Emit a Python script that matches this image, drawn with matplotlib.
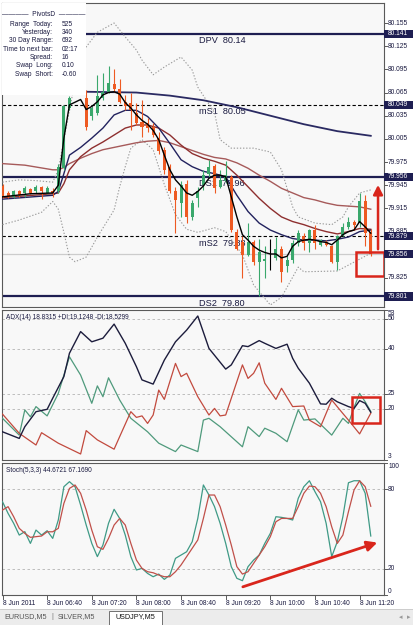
import numpy as np
import matplotlib
matplotlib.use("Agg")
import matplotlib.pyplot as plt
from matplotlib.patches import Rectangle, FancyArrowPatch
from matplotlib.lines import Line2D

plt.rcParams['font.family'] = ['Liberation Sans', 'DejaVu Sans']

nan = np.nan
# ---------------- candles (USDJPY M5) ----------------
opens = [79.944, 79.935, 79.930, 79.937, 79.935, 79.940, 79.937, 79.943, 79.935, 79.938,
         79.937, 79.967, 80.045, nan, nan, 80.058, 80.034, 80.038, 80.058, 80.066,
         80.076, 80.070, 80.053, 80.051, 80.038, 80.027, 80.025, 80.021, 80.006, 79.991,
         79.969, 79.937, 79.922, 79.947, 79.904, 79.928, 79.945, 79.960, 79.970, 79.943,
         79.950, 79.956, 79.885, 79.872, 79.855, 79.872, 79.846, 79.847, 79.849, 79.851,
         79.863, 79.840, 79.848, 79.870, 79.879, 79.870, 79.887, 79.868, 79.872, 79.866,
         79.846, 79.881, 79.891, 79.898, 79.896, 79.924, 79.885]
highs = [79.947, 79.937, 79.939, 79.939, 79.944, 79.942, 79.945, 79.944, 79.944, 79.942,
         79.973, 80.049, 80.060, nan, nan, 80.068, 80.047, 80.088, 80.090, 80.099,
         80.096, 80.083, 80.062, 80.064, 80.051, 80.055, 80.032, 80.025, 80.014, 79.995,
         79.973, 79.943, 79.950, 79.952, 79.926, 79.943, 79.965, 79.978, 79.973, 79.965,
         79.976, 79.958, 79.889, 79.879, 79.896, 79.874, 79.876, 79.866, 79.876, 79.878,
         79.866, 79.853, 79.874, 79.887, 79.883, 79.889, 79.894, 79.876, 79.874, 79.868,
         79.881, 79.896, 79.904, 79.900, 79.935, 79.932, 79.889]
lows = [79.928, 79.928, 79.929, 79.930, 79.930, 79.934, 79.935, 79.927, 79.934, 79.930,
        79.935, 79.965, 80.042, nan, nan, 80.016, 80.029, 80.036, 80.055, 80.064,
        80.066, 80.051, 80.042, 80.017, 80.023, 80.008, 80.014, 80.008, 79.986, 79.960,
        79.935, 79.883, 79.904, 79.896, 79.900, 79.917, 79.939, 79.956, 79.935, 79.941,
        79.948, 79.885, 79.861, 79.825, 79.853, 79.842, 79.801, 79.825, 79.835, 79.848,
        79.820, 79.833, 79.844, 79.866, 79.861, 79.859, 79.863, 79.866, 79.866, 79.844,
        79.835, 79.879, 79.889, 79.887, 79.891, 79.866, 79.853]
closes = [79.930, 79.930, 79.937, 79.932, 79.941, 79.935, 79.943, 79.938, 79.942, 79.935,
          79.969, 80.047, 80.058, nan, nan, 80.021, 80.045, 80.060, 80.066, 80.077,
          80.070, 80.053, 80.047, 80.042, 80.025, 80.021, 80.019, 80.010, 79.989, 79.965,
          79.937, 79.926, 79.945, 79.904, 79.922, 79.938, 79.958, 79.969, 79.941, 79.952,
          79.958, 79.887, 79.863, 79.855, 79.872, 79.846, 79.859, 79.849, 79.849, 79.863,
          79.833, 79.848, 79.870, 79.883, 79.870, 79.887, 79.870, 79.874, 79.868, 79.846,
          79.879, 79.891, 79.898, 79.894, 79.924, 79.883, 79.856]

# ---------------- moving averages / bands (bar index, price) ----------------
ma_fast_x = [0, 5, 9, 10, 11, 12, 14, 15, 16, 17, 18, 19, 20, 21, 22, 23, 24, 25, 26, 27, 28, 29, 30,
             31, 32, 33, 34, 35, 36, 37, 38, 39, 40, 41, 42, 43, 44, 45, 46, 47, 48, 49, 50, 51, 52,
             53, 54, 55, 56, 57, 58, 59, 60, 61, 62, 63, 64, 65, 66]
ma_fast_y = [79.930, 79.934, 79.935, 79.945, 80.006, 80.049, 80.056, 80.043, 80.047, 80.053, 80.062,
             80.065, 80.066, 80.063, 80.052, 80.045, 80.036, 80.029, 80.024, 80.016, 80.004, 79.984,
             79.965, 79.952, 79.944, 79.935, 79.932, 79.937, 79.944, 79.954, 79.958, 79.958, 79.956,
             79.930, 79.904, 79.881, 79.874, 79.866, 79.861, 79.858, 79.856, 79.856, 79.851, 79.853,
             79.866, 79.872, 79.874, 79.875, 79.874, 79.872, 79.871, 79.868, 79.874, 79.881, 79.885,
             79.887, 79.898, 79.891, 79.883]
ma_mid_x = [0, 9, 10, 11, 12, 14, 16, 18, 20, 22, 24, 26, 28, 30, 32, 34, 36, 38, 40, 42, 44, 46, 48,
            50, 52, 54, 56, 58, 60, 62, 64, 66]
ma_mid_y = [79.927, 79.932, 79.937, 79.960, 79.984, 79.994, 80.006, 80.019, 80.036, 80.042, 80.042,
            80.034, 80.019, 79.999, 79.978, 79.969, 79.963, 79.960, 79.956, 79.932, 79.911, 79.896,
            79.887, 79.881, 79.876, 79.874, 79.874, 79.873, 79.875, 79.878, 79.885, 79.887]
ma_21_x = ma_mid_x
ma_21_y = [79.929, 79.934, 79.935, 79.947, 79.965, 79.982, 79.993, 80.001, 80.010, 80.019, 80.023,
           80.023, 80.019, 80.010, 79.997, 79.986, 79.980, 79.976, 79.971, 79.958, 79.943, 79.928,
           79.915, 79.904, 79.898, 79.894, 79.889, 79.885, 79.882, 79.885, 79.889, 79.888]
ma_slow_x = [0, 4, 9, 10, 11, 12, 14, 16, 18, 20, 22, 24, 26, 28, 30, 32, 34, 36, 38, 40, 42, 44, 46,
             48, 50, 52, 54, 56, 58, 60, 62, 64, 66]
ma_slow_y = [79.973, 79.971, 79.965, 79.965, 79.968, 79.973, 79.980, 79.986, 79.991, 79.994, 79.997,
             80.000, 80.002, 80.003, 80.000, 79.995, 79.990, 79.985, 79.981, 79.979, 79.974, 79.967,
             79.958, 79.950, 79.941, 79.935, 79.929, 79.926, 79.922, 79.919, 79.918, 79.917, 79.914]
ma_200_x = [0, 15, 24, 30, 36, 42, 48, 54, 60, 66]
ma_200_y = [80.068, 80.066, 80.065, 80.061, 80.055, 80.046, 80.035, 80.024, 80.015, 80.009]
bb_up_x = [0, 3, 6, 9, 10, 11, 12, 13, 15, 17, 20, 22, 24, 25, 27, 29, 32, 34, 35, 38, 39, 41, 45,
           48, 50, 52, 53, 56, 59, 61, 62, 64, 66]
bb_up_y = [79.949, 79.952, 79.951, 79.949, 79.965, 80.004, 80.042, 80.080, 80.124, 80.143, 80.155,
           80.137, 80.120, 80.107, 80.088, 80.098, 80.111, 80.094, 80.072, 80.039, 80.004, 79.993,
           79.993, 79.988, 79.965, 79.917, 79.904, 79.896, 79.894, 79.904, 79.917, 79.935, 79.939]
bb_lo_x = [0, 3, 7, 9, 10, 11, 12, 13, 15, 17, 20, 21, 22, 23, 25, 27, 29, 31, 33, 35, 38, 40, 43,
           45, 48, 50, 53, 54, 60, 66]
bb_lo_y = [79.894, 79.900, 79.910, 79.924, 79.914, 79.884, 79.852, 79.846, 79.852, 79.878, 79.913,
           79.943, 79.969, 79.993, 80.004, 79.991, 79.946, 79.907, 79.888, 79.884, 79.890, 79.885,
           79.855, 79.816, 79.790, 79.800, 79.839, 79.833, 79.834, 79.857]

# ---------------- ADX(14) ----------------
adx_x = [0, 3, 4, 6, 8, 9, 11, 12, 14, 16, 18, 20, 22, 24, 25, 27, 29, 31, 33, 35, 37, 40, 41, 43,
         44, 46, 47, 49, 51, 52, 53, 55, 57, 58, 59, 60, 62, 63, 64, 65, 66]
adx_y = [12.3, 10.1, 14.0, 19.0, 19.8, 23.5, 30.7, 38.5, 45.7, 42.3, 43.5, 48.2, 41.8, 34.0, 29.6,
         28.2, 36.2, 42.3, 46.2, 50.9, 40.1, 33.2, 34.6, 41.0, 40.7, 42.7, 41.8, 40.1, 41.5, 36.8,
         33.5, 28.5, 21.6, 21.5, 23.5, 22.3, 20.7, 20.1, 22.7, 21.8, 18.8]
pdi_x = [0, 3, 4, 5, 6, 8, 10, 12, 14, 16, 17, 18, 19, 21, 23, 26, 28, 31, 32, 35, 36, 37, 39, 43,
         44, 46, 47, 49, 51, 53, 54, 56, 59, 61, 62, 63, 64, 65, 66]
pdi_y = [16.8, 11.2, 19.6, 17.3, 20.7, 17.6, 25.1, 37.3, 31.2, 21.8, 27.6, 24.0, 30.3, 22.9, 16.8,
         12.3, 8.5, 5.7, 7.9, 5.7, 16.2, 16.8, 14.0, 7.3, 14.0, 10.7, 13.5, 11.8, 9.0, 19.6, 16.2,
         16.6, 11.2, 16.8, 15.1, 20.4, 25.1, 22.3, 19.1]
mdi_x = [0, 3, 6, 7, 10, 14, 15, 17, 20, 21, 23, 24, 25, 26, 27, 28, 29, 31, 32, 33, 35, 37, 38, 39,
         40, 43, 44, 45, 46, 47, 49, 50, 52, 54, 55, 57, 59, 61, 62, 64, 66]
mdi_y = [18.2, 11.8, 7.9, 12.0, 8.5, 4.9, 12.7, 9.6, 6.5, 10.7, 19.0, 17.1, 17.6, 15.1, 17.9, 26.2,
         23.1, 35.1, 30.7, 31.8, 24.0, 17.9, 20.1, 17.6, 17.9, 34.6, 30.1, 31.8, 35.3, 28.5, 23.1,
         26.8, 20.7, 20.9, 16.2, 14.0, 22.9, 18.4, 16.2, 11.6, 18.5]

# ---------------- Stochastic(5,3,3) ----------------
stoch_k = [70.6, 61.8, 54.3, 45.4, 48.0, 39.1, 49.2, 45.4, 48.7, 42.9,
           56.8, 82.0, 85.8, 82.0, 68.1, 53.0, 39.1, 29.1, 37.9, 54.3,
           64.9, 58.0, 45.4, 29.1, 19.0, 20.2, 16.4, 13.9, 15.9, 11.9,
           15.2, 27.8, 30.3, 32.8, 40.4, 58.0, 83.3, 75.7, 66.9, 54.3,
           39.1, 21.5, 12.7, 10.9, 21.5, 26.5, 30.3, 39.1, 46.7, 59.3,
           58.8, 58.0, 56.8, 73.2, 82.0, 86.5, 78.2, 70.6, 54.3, 29.1,
           40.4, 59.3, 85.0, 86.5, 86.5, 77.0, 44.7]
stoch_d = [64.3, 66.9, 59.3, 50.5, 46.7, 43.7, 44.2, 44.7, 47.9, 47.9,
           50.5, 69.4, 80.7, 83.3, 77.0, 64.3, 49.2, 36.6, 34.6, 42.9,
           53.0, 58.0, 53.0, 39.1, 26.5, 20.2, 17.7, 16.9, 15.2, 13.9,
           13.9, 17.7, 22.8, 29.1, 35.4, 41.7, 58.0, 75.7, 75.7, 66.9,
           53.0, 37.9, 21.5, 15.9, 17.7, 24.0, 30.3, 36.6, 44.2, 55.5,
           58.0, 58.0, 58.0, 66.9, 77.0, 82.5, 82.0, 77.0, 66.9, 51.7,
           39.1, 45.4, 63.1, 79.5, 86.5, 82.0, 67.2]

# ---------------- labels ----------------
time_tick_bars = [0, 8, 16, 24, 32, 40, 48, 56, 64]
time_tick_labels = ["8 Jun 2011", "8 Jun 06:40", "8 Jun 07:20", "8 Jun 08:00", "8 Jun 08:40",
                    "8 Jun 09:20", "8 Jun 10:00", "8 Jun 10:40", "8 Jun 11:20"]
price_ticks = [80.155, 80.125, 80.095, 80.065, 80.035, 80.005, 79.975, 79.945, 79.915, 79.885, 79.825]
price_marks = [80.141, 80.049, 79.956, 79.879, 79.856, 79.801]
pivot_names = ["DPV", "mS1", "DS1", "mS2", "DS2"]
pivot_levels = [80.141, 80.049, 79.956, 79.879, 79.801]
pivot_texts = ["80.14", "80.05", "79.96", "79.88", "79.80"]
pivot_solid = [True, False, True, False, True]
bid_price = 79.856
info_keys = ["Range  Today:", "Yesterday:", "30 Day Range:", "Time to next bar:", "Spread:",
             "Swap  Long:", "Swap  Short:"]
info_vals = ["525", "340", "692", "02:17", "16", "0.10", "-0.60"]
adx_title = "ADX(14) 18.8315 +DI:19.1248 -DI:18.5299"
stoch_title = "Stoch(5,3,3) 44.6721 67.1690"
adx_levels = [50, 40, 25, 20]
adx_ticks = [53, 50, 40, 25, 20, 3]
stoch_levels = [80, 20]
stoch_ticks = [100, 80, 20, 0]
tabs = ["EURUSD,M5", "SILVER,M5", "USDJPY,M5"]

# ---------------- style ----------------
GREEN = '#3aa86c'
ORANGE = '#ee5a22'
NAVY = '#1e1e52'
RED = '#d9261c'
TXT = '#1a1a40'
BG = '#f8f8f8'
EDGE = '#5a5a5a'
FS = 4.8     # small scale font
W, H = 413, 625
fig = plt.figure(figsize=(W / 100, H / 100), dpi=100)
fig.patch.set_facecolor('white')


def rect_px(x0, y0, x1, y1):
    return [x0 / W, 1 - y1 / H, (x1 - x0) / W, (y1 - y0) / H]


ax = fig.add_axes(rect_px(2, 3, 384, 307))
ax2 = fig.add_axes(rect_px(2, 309.7, 384, 459.7))
ax3 = fig.add_axes(rect_px(2, 462.9, 384, 595.1))
XL = (-0.09, 68.37)
for a in (ax, ax2, ax3):
    a.set_facecolor(BG)
    a.set_xlim(*XL)
    a.set_xticks([])
    a.set_yticks([])
    for s in a.spines.values():
        s.set_color(EDGE)
        s.set_linewidth(0.8)
ax.set_ylim(79.7874, 80.1809)
ax2.set_ylim(3, 53)
ax3.set_ylim(0, 100)

# ----- main chart -----
for name, lev, txt, solid in zip(pivot_names, pivot_levels, pivot_texts, pivot_solid):
    if solid:
        ax.axhline(lev, color=NAVY, lw=1.6, zorder=2)
    else:
        ax.axhline(lev, color='black', lw=0.8, ls=(0, (3, 2)), zorder=2)
    ax.text(35.2, lev - 0.0091, f"{name}  {txt}", fontsize=6.6, color=TXT,
            va='center', ha='left', zorder=2)
ax.axhline(bid_price, color='#cccccc', lw=0.9, zorder=1)

ax.plot(bb_up_x, bb_up_y, color='#9a9a9a', lw=0.8, ls=(0, (1.2, 1.6)), zorder=3)
ax.plot(bb_lo_x, bb_lo_y, color='#9a9a9a', lw=0.8, ls=(0, (1.2, 1.6)), zorder=3)
ax.plot(ma_200_x, ma_200_y, color='#2a2a62', lw=1.3, zorder=3)
ax.plot(ma_slow_x, ma_slow_y, color='#a65a5a', lw=1.0, zorder=3)
ax.plot(ma_21_x, ma_21_y, color='#8e2f2f', lw=1.0, zorder=3)
ax.plot(ma_mid_x, ma_mid_y, color='#22225e', lw=1.0, zorder=3)

for i in range(len(opens)):
    o, h, l, c = opens[i], highs[i], lows[i], closes[i]
    if np.isnan(o):
        continue
    if abs(c - o) < 1e-9:
        col = 'black'
    else:
        col = GREEN if c > o else ORANGE
    ax.vlines(i, l, h, color=col, lw=0.8, zorder=4)
    ax.add_patch(Rectangle((i - 0.27, min(o, c)), 0.54, max(abs(c - o), 0.0007),
                           fc=col, ec='none', zorder=5))

ax.plot(ma_fast_x, ma_fast_y, color='black', lw=1.0, zorder=6)

# price scale
ytr = ax.get_yaxis_transform()
for p in price_ticks:
    ax.add_line(Line2D([1.0, 1.007], [p, p], transform=ytr, color=EDGE, lw=0.7, clip_on=False))
    ax.text(1.011, p, f"{p:.3f}", transform=ytr, fontsize=FS, color=TXT, va='center', ha='left')
for p in price_marks:
    ax.add_patch(Rectangle((1.0, p - 0.0052), 0.08, 0.0104, transform=ytr, fc=NAVY, ec='none',
                           clip_on=False, zorder=20))
    ax.text(1.011, p, f"{p:.3f}", transform=ytr, fontsize=FS, color='white', va='center',
            ha='left', zorder=21)

# annotations main
ax.add_patch(Rectangle((63.35, 79.8276), 4.95, 0.0310, fc='none', ec=RED, lw=1.8, zorder=8))
ax.add_patch(FancyArrowPatch((67.3, 79.8586), (67.3, 79.949), arrowstyle='-|>,head_length=0.55,head_width=0.28',
                             mutation_scale=10, color=RED, lw=1.8, zorder=8))

# ----- ADX -----
for lv in adx_levels:
    ax2.axhline(lv, color='#b4b4b4', lw=0.6, ls=(0, (3, 3)), zorder=1)
ax2.plot(pdi_x, pdi_y, color='#4f9a7c', lw=0.9, zorder=3)
ax2.plot(mdi_x, mdi_y, color='#c24a3e', lw=0.9, zorder=3)
ax2.plot(adx_x, adx_y, color='#1c1c3c', lw=1.0, zorder=4)
ax2.text(0.01, 0.97, adx_title, transform=ax2.transAxes, fontsize=4.7, color=TXT, va='top', ha='left')
ytr2 = ax2.get_yaxis_transform()
for v in adx_ticks:
    va = 'top' if v == max(adx_ticks) else ('bottom' if v == min(adx_ticks) else 'center')
    ax2.add_line(Line2D([1.0, 1.007], [v, v], transform=ytr2, color=EDGE, lw=0.7, clip_on=False))
    ax2.text(1.011, v, str(v), transform=ytr2, fontsize=FS, color=TXT, va=va, ha='left')
ax2.add_patch(Rectangle((62.6, 15.2), 5.1, 8.7, fc='none', ec=RED, lw=1.8, zorder=8))

# ----- Stochastic -----
for lv in stoch_levels:
    ax3.axhline(lv, color='#b4b4b4', lw=0.6, ls=(0, (3, 3)), zorder=1)
sx = np.arange(len(stoch_k))
ax3.plot(sx, stoch_k, color='#3f9a86', lw=0.9, zorder=3)
ax3.plot(sx, stoch_d, color='#c0504a', lw=0.9, zorder=3)
ax3.text(0.01, 0.97, stoch_title, transform=ax3.transAxes, fontsize=4.7, color=TXT, va='top', ha='left')
ytr3 = ax3.get_yaxis_transform()
for v in stoch_ticks:
    va = 'top' if v == max(stoch_ticks) else ('bottom' if v == min(stoch_ticks) else 'center')
    ax3.add_line(Line2D([1.0, 1.007], [v, v], transform=ytr3, color=EDGE, lw=0.7, clip_on=False))
    ax3.text(1.011, v, str(v), transform=ytr3, fontsize=FS, color=TXT, va=va, ha='left')
ax3.add_patch(FancyArrowPatch((42.6, 5.6), (67.65, 40.4), arrowstyle='-|>,head_length=0.6,head_width=0.3',
                              mutation_scale=10, color=RED, lw=2.0, zorder=8))

# time axis
xtr3 = ax3.get_xaxis_transform()
for b, lab in zip(time_tick_bars, time_tick_labels):
    ax3.add_line(Line2D([b, b], [0, -0.03], transform=xtr3, color=EDGE, lw=0.7, clip_on=False))
    ax3.text(b, -0.066, lab, transform=xtr3, fontsize=FS, color=TXT, va='center', ha='left')

# ----- info box -----
fig.add_artist(Rectangle((2 / W, 1 - 95 / H), 84 / W, 92 / H, transform=fig.transFigure,
                         fc='white', ec='none', zorder=5))
fig.text(44 / W, 1 - 15 / H, "\u2014\u2014\u2014\u2014  PivotsD  \u2014\u2014\u2014\u2014", fontsize=FS,
         color=TXT, ha='center', va='center', zorder=6)
for k, (key, val) in enumerate(zip(info_keys, info_vals)):
    yy = 24 + k * 8.35
    fig.text(53 / W, 1 - yy / H, key, fontsize=4.8, color=TXT, ha='right', va='center', zorder=6)
    fig.text(62 / W, 1 - yy / H, val, fontsize=4.8, color=TXT, ha='left', va='center', zorder=6)

# ----- tab bar -----
fig.add_artist(Rectangle((0, 0), 1, 16 / H, transform=fig.transFigure, fc='#ececec', ec='none', zorder=1))
fig.add_artist(Line2D([0, 1], [16 / H, 16 / H], transform=fig.transFigure, color='#c8c8c8', lw=0.6, zorder=2))
fig.add_artist(Rectangle((109 / W, 0), 53 / W, 14.5 / H, transform=fig.transFigure, fc='white',
                         ec='#707070', lw=0.7, zorder=2))
tab_x = [4, 58, 115]
for tx, t in zip(tab_x, tabs):
    fig.text(tx / W, 8 / H, t, fontsize=5.2, color='#555555' if t != tabs[-1] else '#111111',
             ha='left', va='center', zorder=3)
fig.text(51 / W, 8 / H, "|", fontsize=5.2, color='#777777', ha='left', va='center', zorder=3)
fig.text(401 / W, 8 / H, "\u25c2", fontsize=5, color='#999999', ha='center', va='center', zorder=3,
         family=['DejaVu Sans'])
fig.text(409 / W, 8 / H, "\u25b8", fontsize=5, color='#999999', ha='center', va='center', zorder=3,
         family=['DejaVu Sans'])

fig.savefig("out.png", dpi=100)
